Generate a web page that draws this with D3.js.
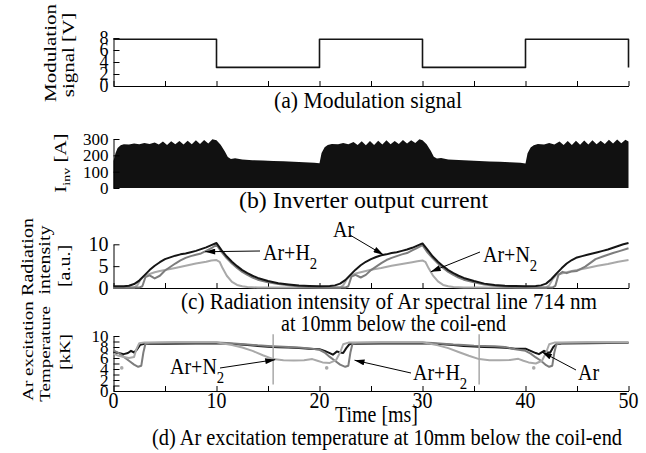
<!DOCTYPE html>
<html>
<head>
<meta charset="utf-8">
<script src="https://cdn.jsdelivr.net/npm/d3@7"></script>
<style>
  body { margin: 0; background: #fff; }
  svg { display: block; }
  text { font-family: 'Liberation Serif', 'Times New Roman', serif; }
</style>
</head>
<body>
<svg id="chart" width="646" height="453" font-family="Liberation Serif, serif"></svg>
<script>
// (a) modulation signal [V]
var modTime = [0, 10, 10, 20, 20, 30, 30, 40, 40, 50, 50];
var modVolt = [7.8, 7.8, 3.1, 3.1, 7.8, 7.8, 3.1, 3.1, 7.8, 7.8, 3.1];

// (b) inverter output current [A]  [ms, A]
var current = [
  [0,165],[0.2,215],[0.4,245],[0.7,262],[1,268],[1.5,266],[2,272],[2.5,268],[3,275],[3.5,270],
  [4,278],[4.4,266],[4.8,284],[5.2,264],[5.6,286],[6,268],[6.4,288],[6.8,266],[7.2,290],[7.6,268],
  [8,292],[8.4,270],[8.8,294],[9.2,273],[9.6,298],[10,292],[10.4,265],[10.8,225],[11.1,190],[11.4,178],
  [11.8,182],[12.5,174],[13.5,170],[14.5,168],[15.5,165],[16.5,164],[17.5,160],[18.5,158],[19.5,155],[20,152],
  [20.2,215],[20.5,250],[20.8,264],[21.2,270],[21.8,268],[22.3,276],[22.8,268],[23.3,282],[23.7,264],[24.1,286],
  [24.5,262],[24.9,288],[25.3,264],[25.7,290],[26.1,266],[26.5,292],[26.9,268],[27.3,288],[27.7,270],[28.1,294],
  [28.5,272],[28.9,292],[29.3,276],[29.7,298],[30,292],[30.4,268],[30.8,228],[31.1,192],[31.4,180],[31.8,183],
  [32.5,175],[33.5,172],[34.5,168],[35.5,166],[36.5,163],[37.5,160],[38.5,158],[39.5,155],[40,150],
  [40.2,212],[40.5,248],[40.8,262],[41.2,270],[41.8,266],[42.3,275],[42.8,266],[43.3,284],[43.7,264],[44.1,287],
  [44.5,263],[44.9,289],[45.3,265],[45.7,291],[46.1,266],[46.5,293],[46.9,268],[47.3,290],[47.7,270],[48.1,295],
  [48.5,272],[48.9,297],[49.3,274],[49.7,296],[50,285]
];

// (c) radiation intensity [a.u.]
var intAr = [
  [0,0.4],[1,0.4],[1.5,0.5],[2,0.9],[2.5,1.7],[3,2.9],[3.5,4.1],[4,5.1],[4.5,5.9],[5,6.6],[5.5,7.0],[6,7.4],
  [6.5,7.7],[7,7.9],[7.5,8.2],[8,8.5],[8.5,8.9],[9,9.3],[9.5,9.8],[10,10.3],[10.5,8.6],[11,7.2],[11.5,6.0],
  [12,5.0],[12.5,4.1],[13,3.4],[13.5,2.8],[14,2.3],[15,1.6],[16,1.1],[17,0.8],[18,0.55],[19,0.45],[20,0.4],
  [21,0.45],[21.5,0.6],[22,1.0],[22.5,1.8],[23,3.0],[23.5,4.2],[24,5.2],[24.5,6.0],[25,6.6],[25.5,7.1],[26,7.5],
  [26.5,7.7],[27,8.0],[27.5,8.2],[28,8.5],[28.5,8.8],[29,9.2],[29.5,9.7],[30,10.2],[30.5,8.7],[31,7.2],[31.5,6.0],
  [32,5.0],[32.5,4.1],[33,3.4],[33.5,2.8],[34,2.3],[35,1.6],[36,1.0],[37,0.7],[38,0.5],[39,0.45],[40,0.4],
  [41,0.45],[41.5,0.6],[42,1.0],[42.5,2.0],[43,3.3],[43.5,4.5],[44,5.6],[44.5,6.4],[45,7.0],[45.5,7.3],[46,7.6],
  [46.5,7.9],[47,8.2],[47.5,8.5],[48,8.8],[48.5,9.2],[49,9.6],[49.5,10.0],[50,10.3]
];
var intArH2 = [
  [0,0.1],[2.5,0.1],[2.8,0.4],[3.1,2.5],[3.5,2.9],[4,2.2],[4.5,2.8],[5,4.0],[5.5,4.8],[6,5.6],[6.5,6.3],[7,6.9],
  [7.5,7.3],[8,7.6],[8.5,7.9],[9,8.5],[9.5,9.1],[10,9.9],[10.5,8.2],[11,6.8],[11.5,5.6],[12,4.6],[12.5,3.7],
  [13,3.0],[13.5,2.4],[14,1.9],[15,1.3],[16,0.9],[17,0.6],[18,0.35],[19,0.2],[20,0.1],[22.5,0.1],[22.8,0.4],
  [23.1,2.6],[23.5,3.0],[24,2.4],[24.5,3.0],[25,4.1],[25.5,4.9],[26,5.7],[26.5,6.4],[27,6.9],[27.5,7.3],[28,7.7],
  [28.5,8.0],[29,8.6],[29.5,9.2],[30,9.8],[30.5,8.1],[31,6.8],[31.5,5.6],[32,4.6],[32.5,3.7],[33,3.0],[33.5,2.4],
  [34,1.9],[35,1.3],[36,0.8],[37,0.5],[38,0.3],[39,0.2],[40,0.1],[42.6,0.1],[42.9,0.5],[43.2,3.0],[43.6,3.7],
  [44,3.4],[44.5,3.8],[45,3.9],[45.8,4.9],[46.8,6.6],[47.5,7.2],[48.5,8.0],[49.2,8.5],[50,9.1]
];
var intArN2 = [
  [0,0.1],[2,0.1],[2.3,0.6],[2.6,1.8],[3,2.8],[3.5,3.2],[4,3.6],[4.5,3.9],[5,4.1],[6,4.6],[7,5.1],[8,5.6],
  [9,6.0],[9.5,6.3],[10,6.4],[10.3,6.0],[10.6,4.5],[11,2.8],[11.5,1.4],[12,0.7],[12.5,0.4],[13,0.25],[14,0.1],
  [22,0.1],[22.3,0.6],[22.6,1.8],[23,2.9],[23.5,3.3],[24,3.6],[24.5,3.9],[25,4.2],[26,4.6],[27,5.1],[28,5.5],
  [29,5.9],[29.5,6.1],[30,6.3],[30.3,5.9],[30.6,4.5],[31,2.9],[31.5,1.5],[32,0.7],[32.5,0.4],[33,0.25],[34,0.1],
  [42,0.1],[42.3,0.6],[42.6,1.9],[43,3.0],[43.5,3.3],[44,3.6],[44.5,3.9],[45,4.1],[46,4.6],[47,5.1],[48,5.5],
  [49,6.0],[50,6.4]
];

// (d) excitation temperature [kK]
var tempAr = [
  [0,7.1],[0.5,6.9],[1,6.7],[1.4,6.9],[1.7,7.3],[2,7.0],[2.3,7.6],[2.6,8.4],[3,8.6],[5,8.6],[8,8.65],[10,8.7],
  [11,8.65],[12,8.5],[13,8.35],[14,8.2],[15,8.05],[16,7.95],[17,7.9],[18,7.8],[19,7.7],[20,7.6],[20.5,7.3],
  [21,6.9],[21.3,6.6],[21.7,7.2],[22,7.0],[22.3,6.9],[22.6,7.8],[22.9,8.5],[23.3,8.6],[26,8.65],[30,8.7],
  [31,8.6],[32,8.5],[33,8.35],[34,8.2],[35,8.1],[36,8.0],[37,7.95],[38,7.85],[39,7.7],[40,7.7],[40.5,7.3],
  [41,6.9],[41.3,6.7],[41.8,7.3],[42.1,7.0],[42.4,7.0],[42.7,8.0],[43,8.5],[43.5,8.65],[46,8.7],[50,8.75]
];
var tempArH2 = [
  [0,7.4],[0.5,6.9],[1,6.2],[1.5,5.5],[2,4.8],[2.4,4.4],[2.7,4.6],[2.9,7.0],[3.1,8.6],[3.5,8.75],[6,8.8],
  [10,8.8],[11,8.75],[12,8.6],[13,8.45],[14,8.3],[15,8.2],[16,8.1],[17,8.0],[18,7.9],[19,7.75],[20,7.5],
  [20.5,7.0],[21,6.2],[21.5,5.5],[22,4.8],[22.5,4.4],[22.8,4.6],[23,7.0],[23.2,8.6],[23.6,8.75],[26,8.8],
  [30,8.8],[31,8.75],[32,8.6],[33,8.45],[34,8.35],[35,8.25],[36,8.2],[37,8.15],[38,8.0],[39,7.6],[40,7.3],
  [40.5,6.8],[41,6.1],[41.5,5.5],[42,4.7],[42.3,4.4],[42.6,4.6],[42.8,7.0],[43,8.5],[43.5,8.75],[46,8.8],[50,8.8]
];
var tempArN2 = [
  [0,6.8],[0.5,6.4],[1,6.2],[1.5,6.0],[2,6.2],[2.2,7.5],[2.5,8.7],[3,8.8],[6,8.85],[10,8.85],[10.5,8.7],
  [11.5,8.35],[12.5,7.9],[13.5,7.3],[14.5,6.5],[15.5,5.8],[16.5,5.6],[17.5,5.55],[18.5,5.6],[19.3,5.8],
  [19.8,5.5],[20.3,5.2],[21,5.1],[21.6,5.6],[22,7.0],[22.3,8.5],[22.8,8.8],[26,8.85],[30,8.85],[30.5,8.7],
  [31.5,8.3],[32.5,7.8],[33.5,7.1],[34.5,6.4],[35.5,5.8],[36.5,5.6],[37.5,5.6],[38.5,5.65],[39.3,5.85],
  [39.8,5.5],[40.3,5.2],[41,5.0],[41.6,5.5],[42,7.0],[42.3,8.5],[42.8,8.8],[46,8.85],[50,8.85]
];
var tempDotsN2 = [[0.8,4.2],[20.7,4.2],[40.8,4.2]];
var markerTimes = [15.5, 35.5];
var markerRange = [1.2, 10.3];

var timeTicks = [0, 5, 10, 15, 20, 25, 30, 35, 40, 45, 50];
var timeLabels = [0, 10, 20, 30, 40, 50];

var BLACK = '#151515', MID = '#7d7d7d', LIGHT = '#a9a9a9';
var SERIF = 'Liberation Serif, Times New Roman, serif';

var svg = d3.select('#chart');
svg.append('rect').attr('width', 646).attr('height', 453).attr('fill', '#fff');

svg.append('defs').append('marker')
    .attr('id', 'head')
    .attr('viewBox', '0 0 10 6')
    .attr('refX', 10).attr('refY', 3)
    .attr('markerWidth', 11).attr('markerHeight', 6)
    .attr('markerUnits', 'userSpaceOnUse')
    .attr('orient', 'auto')
  .append('path').attr('d', 'M0,0L10,3L0,6Z').attr('fill', '#000');

var x = d3.scaleLinear().domain([0, 50]).range([113.5, 628.5]);
var yA = d3.scaleLinear().domain([0, 8]).range([86, 38]);
var yB = d3.scaleLinear().domain([0, 300]).range([188, 139]);
var yC = d3.scaleLinear().domain([0, 10]).range([288, 244.3]);
var yD = d3.scaleLinear().domain([0, 10]).range([391, 336]);

function leftAxis(scale, ticks, labels, size) {
  var g = svg.append('g').attr('transform', 'translate(' + x(0) + ',0)');
  g.call(d3.axisLeft(scale).tickValues(ticks).tickSize(-6).tickSizeOuter(0).tickPadding(5)
      .tickFormat(function(d) { return labels.indexOf(d) >= 0 ? d : ''; }));
  g.attr('font-family', SERIF).attr('font-size', size);
  g.selectAll('text').attr('fill', '#000');
  g.selectAll('line, path').attr('stroke', '#000');
  return g;
}

function bottomAxis(y0, ticks) {
  var g = svg.append('g').attr('transform', 'translate(0,' + y0 + ')');
  g.call(d3.axisBottom(x).tickValues(ticks).tickSize(-5).tickSizeOuter(0).tickFormat(''));
  g.selectAll('line, path').attr('stroke', '#000');
  return g;
}

function curve(data, yScale, color, w) {
  svg.append('path')
    .datum(data)
    .attr('fill', 'none')
    .attr('stroke', color)
    .attr('stroke-width', w)
    .attr('stroke-linejoin', 'round')
    .attr('d', d3.line().x(function(d) { return x(d[0]); }).y(function(d) { return yScale(d[1]); }));
}

function caption(str, x0, y0, w) {
  svg.append('text')
    .attr('x', x0).attr('y', y0)
    .attr('font-family', SERIF)
    .attr('font-size', 23)
    .attr('textLength', w).attr('lengthAdjust', 'spacingAndGlyphs')
    .text(str);
}

function vtitle(str, bx, cy, size) {
  svg.append('text')
    .attr('transform', 'translate(' + bx + ',' + cy + ') rotate(-90) scale(1,0.8)')
    .attr('text-anchor', 'middle')
    .attr('font-family', SERIF)
    .attr('font-size', size || 21)
    .text(str);
}

function note(main, sub, x0, y0) {
  var t = svg.append('text')
    .attr('transform', 'translate(' + x0 + ',' + y0 + ') scale(0.87,1)')
    .attr('font-family', SERIF)
    .attr('font-size', 23);
  t.append('tspan').text(main);
  if (sub) t.append('tspan').attr('dy', 9).attr('font-size', 17).text(sub);
}

function arrow(x1, y1, x2, y2) {
  svg.append('line')
    .attr('x1', x1).attr('y1', y1).attr('x2', x2).attr('y2', y2)
    .attr('stroke', '#000').attr('stroke-width', 1)
    .attr('marker-end', 'url(#head)');
}

// ---- (a) modulation signal
leftAxis(yA, [0, 2, 4, 6, 8], [0, 2, 4, 6, 8], 18);
bottomAxis(yA(0), timeTicks);
curve(d3.zip(modTime, modVolt), yA, BLACK, 1.6);
vtitle('Modulation', 56, 53);
vtitle('signal [V]', 74, 55);
caption('(a) Modulation signal', 274, 108, 188);

// ---- (b) inverter current
svg.append('path')
  .datum(current)
  .attr('fill', '#111')
  .attr('d', d3.area().x(function(d) { return x(d[0]); }).y0(yB(0)).y1(function(d) { return yB(d[1]); }));
leftAxis(yB, [0, 100, 200, 300], [0, 100, 200, 300], 17);
var it = svg.append('text')
  .attr('transform', 'translate(66,163) rotate(-90) scale(1,0.8)')
  .attr('text-anchor', 'middle').attr('font-family', SERIF).attr('font-size', 21);
it.append('tspan').text('I');
it.append('tspan').attr('dy', 5).attr('font-size', 14).text('inv');
it.append('tspan').attr('dy', -5).text(' [A]');
caption('(b) Inverter output current', 239, 208, 249);

// ---- (c) radiation intensity
leftAxis(yC, [0, 5, 10], [0, 5, 10], 20);
bottomAxis(yC(0), timeTicks);
curve(intArN2, yC, LIGHT, 2);
curve(intArH2, yC, MID, 2);
curve(intAr, yC, BLACK, 2);
vtitle('Radiation', 33, 257, 20);
vtitle('intensity', 50, 260, 20);
vtitle('[a.u.]', 70, 266, 20);
note('Ar', '', 333, 237);
arrow(350, 235, x(26.2), yC(7.6));
note('Ar+H', '2', 263, 260);
arrow(260, 251, x(8.9), yC(8.3));
note('Ar+N', '2', 483, 262);
arrow(480, 252, x(30.8), yC(3.7));
caption('(c) Radiation intensity of Ar spectral line 714 nm', 181, 309, 416);
caption('at 10mm below the coil-end', 281, 331, 225);

// ---- (d) excitation temperature
leftAxis(yD, d3.range(0, 11), [0, 2, 4, 6, 8, 10], 17);
bottomAxis(yD(0), timeTicks);
curve(tempAr, yD, BLACK, 2);
curve(tempArH2, yD, MID, 2);
curve(tempArN2, yD, LIGHT, 2);
svg.selectAll('circle.dot')
  .data(tempDotsN2).enter().append('circle')
  .attr('class', 'dot')
  .attr('cx', function(d) { return x(d[0]); })
  .attr('cy', function(d) { return yD(d[1]); })
  .attr('r', 1.8).attr('fill', LIGHT);
svg.selectAll('line.marker')
  .data(markerTimes).enter().append('line')
  .attr('class', 'marker')
  .attr('x1', function(d) { return x(d); }).attr('x2', function(d) { return x(d); })
  .attr('y1', yD(markerRange[0])).attr('y2', yD(markerRange[1]))
  .attr('stroke', LIGHT).attr('stroke-width', 1.5);
svg.selectAll('text.xlab')
  .data(timeLabels).enter().append('text')
  .attr('class', 'xlab')
  .attr('transform', function(d) { return 'translate(' + x(d) + ',408) scale(0.83,1)'; })
  .attr('text-anchor', 'middle').attr('font-family', SERIF).attr('font-size', 24)
  .text(function(d) { return d; });
vtitle('Ar excitation', 33, 351, 19);
vtitle('Temperature', 50, 354, 19);
vtitle('[kK]', 70, 352, 19);
note('Ar+N', '2', 170, 374);
arrow(220, 368, x(15.7), yD(5.7));
note('Ar+H', '2', 413, 380);
arrow(411, 373, x(23.4), yD(5.6));
note('Ar', '', 578, 380);
arrow(576, 370, x(41.6), yD(7.1));
caption('Time [ms]', 335, 422, 83);
caption('(d) Ar excitation temperature at 10mm below the coil-end', 152, 445, 470);
</script>
</body>
</html>
